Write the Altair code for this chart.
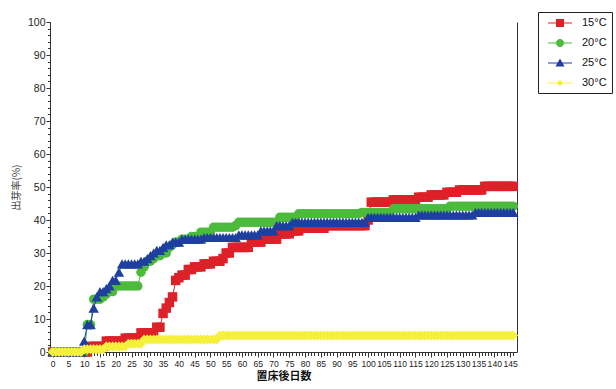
import altair as alt
import pandas as pd

# Days after placement on the germination bed (day 0 .. 146)
days = list(range(147))

temps = ["15°C", "20°C", "25°C", "30°C"]
colors = ["#dd2128", "#4cbb3c", "#1f3f9f", "#f5f03a"]

# Cumulative rate (%) per day, one list per temperature
rate_15 = [
    0, 0, 0, 0, 0, 0, 0, 0, 0, 0,
    0, 0, 1.7, 1.7, 1.7, 1.7, 1.7, 3.3, 3.3, 3.3,
    3.3, 3.3, 3.3, 4.2, 4.2, 4.2, 4.2, 4.2, 5.8, 5.8,
    5.8, 5.8, 5.8, 7.5, 7.5, 11.7, 13.3, 15.0, 16.7, 21.7,
    22.5, 23.3, 23.3, 25.0, 25.0, 25.8, 25.8, 25.8, 26.7, 26.7,
    26.7, 27.5, 27.5, 27.5, 28.3, 30.0, 30.0, 31.7, 31.7, 31.7,
    31.7, 31.7, 31.7, 33.3, 33.3, 33.3, 33.3, 34.2, 34.2, 34.2,
    34.2, 34.2, 35.8, 35.8, 35.8, 35.8, 36.7, 36.7, 36.7, 37.5,
    37.5, 37.5, 37.5, 37.5, 37.5, 37.5, 37.5, 38.3, 38.3, 38.3,
    38.3, 38.3, 38.3, 38.3, 38.3, 38.3, 38.3, 38.3, 38.3, 38.3,
    40.0, 45.4, 45.4, 45.4, 45.4, 45.4, 45.4, 45.4, 46.1, 46.1,
    46.1, 46.1, 46.1, 46.1, 46.1, 46.1, 46.9, 46.9, 46.9, 46.9,
    47.6, 47.6, 47.6, 47.6, 47.6, 48.4, 48.4, 48.4, 48.4, 49.1,
    49.1, 49.1, 49.1, 49.1, 49.1, 49.1, 49.1, 50.2, 50.2, 50.2,
    50.2, 50.2, 50.2, 50.2, 50.2, 50.2, 50.2,
]

rate_20 = [
    0, 0, 0, 0, 0, 0, 0, 0, 0, 0,
    0, 8.3, 8.3, 16.0, 16.0, 16.0, 16.7, 17.5, 18.3, 18.3,
    20.0, 20.0, 20.0, 20.0, 20.0, 20.0, 20.0, 20.0, 24.2, 25.8,
    27.5, 27.5, 28.3, 29.2, 29.2, 30.0, 30.0, 31.7, 32.5, 33.3,
    33.3, 34.2, 34.2, 34.2, 35.0, 35.0, 35.0, 36.3, 36.3, 36.3,
    36.3, 37.8, 37.8, 37.8, 37.8, 37.8, 37.8, 37.8, 38.3, 39.3,
    39.3, 39.3, 39.3, 39.3, 39.3, 39.3, 39.3, 39.3, 39.3, 39.3,
    39.3, 39.3, 40.8, 40.8, 40.8, 40.8, 40.8, 40.8, 41.9, 41.9,
    41.9, 41.9, 41.9, 41.9, 41.9, 41.9, 41.9, 41.9, 41.9, 41.9,
    41.9, 41.9, 41.9, 41.9, 41.9, 41.9, 41.9, 41.9, 42.3, 42.3,
    42.3, 42.3, 42.3, 42.3, 42.3, 42.3, 42.3, 42.3, 43.4, 43.4,
    43.4, 43.4, 43.4, 43.4, 43.4, 43.4, 43.4, 43.4, 43.4, 43.4,
    43.4, 43.4, 43.4, 43.4, 43.4, 43.4, 44.2, 44.2, 44.2, 44.2,
    44.2, 44.2, 44.2, 44.2, 44.2, 44.2, 44.2, 44.2, 44.2, 44.2,
    44.2, 44.2, 44.2, 44.2, 44.2, 44.2, 44.2,
]

rate_25 = [
    0, 0, 0, 0, 0, 0, 0, 0, 0, 0,
    3.3, 8.3, 8.3, 13.3, 16.7, 18.3, 18.3, 19.2, 20.0, 21.7,
    21.7, 24.2, 26.7, 26.7, 26.7, 26.7, 26.7, 26.7, 27.5, 27.5,
    28.3, 29.2, 30.0, 30.8, 30.8, 31.7, 32.5, 32.5, 33.3, 33.3,
    33.3, 34.2, 34.2, 34.2, 34.2, 34.2, 34.2, 34.2, 34.7, 34.7,
    34.7, 34.7, 34.7, 34.7, 34.7, 34.7, 34.7, 34.7, 34.7, 35.5,
    35.5, 35.5, 35.5, 35.5, 35.5, 35.5, 36.7, 36.7, 36.7, 36.7,
    36.7, 38.3, 38.3, 38.3, 38.3, 38.3, 39.3, 39.3, 39.3, 39.3,
    39.3, 39.3, 39.3, 39.3, 39.3, 39.3, 39.3, 39.3, 39.3, 39.3,
    39.3, 39.3, 39.3, 39.3, 39.3, 39.3, 39.3, 39.3, 39.3, 39.3,
    40.8, 40.8, 40.8, 40.8, 40.8, 40.8, 40.8, 40.8, 40.8, 40.8,
    40.8, 40.8, 40.8, 40.8, 40.8, 40.8, 41.5, 41.5, 41.5, 41.5,
    41.5, 41.5, 41.5, 41.5, 41.5, 41.5, 41.5, 41.5, 41.5, 41.5,
    41.5, 41.5, 41.5, 41.5, 42.3, 42.3, 42.3, 42.3, 42.3, 42.3,
    42.3, 42.3, 42.3, 42.3, 42.3, 42.3, 42.3,
]

rate_30 = [
    0, 0, 0, 0, 0, 0, 0, 0, 0, 0,
    0.8, 0.8, 0.8, 0.8, 0.8, 0.8, 0.8, 1.7, 1.7, 1.7,
    1.7, 1.7, 1.7, 1.7, 2.5, 2.5, 2.5, 2.5, 2.5, 3.8,
    3.8, 3.8, 3.8, 3.8, 3.8, 3.8, 3.8, 3.8, 3.8, 3.8,
    3.8, 3.8, 3.8, 3.8, 3.8, 3.8, 3.8, 3.8, 3.8, 3.8,
    3.8, 3.8, 3.8, 5.0, 5.0, 5.0, 5.0, 5.0, 5.0, 5.0,
    5.0, 5.0, 5.0, 5.0, 5.0, 5.0, 5.0, 5.0, 5.0, 5.0,
    5.0, 5.0, 5.0, 5.0, 5.0, 5.0, 5.0, 5.0, 5.0, 5.0,
    5.0, 5.0, 5.0, 5.0, 5.0, 5.0, 5.0, 5.0, 5.0, 5.0,
    5.0, 5.0, 5.0, 5.0, 5.0, 5.0, 5.0, 5.0, 5.0, 5.0,
    5.0, 5.0, 5.0, 5.0, 5.0, 5.0, 5.0, 5.0, 5.0, 5.0,
    5.0, 5.0, 5.0, 5.0, 5.0, 5.0, 5.0, 5.0, 5.0, 5.0,
    5.0, 5.0, 5.0, 5.0, 5.0, 5.0, 5.0, 5.0, 5.0, 5.0,
    5.0, 5.0, 5.0, 5.0, 5.0, 5.0, 5.0, 5.0, 5.0, 5.0,
    5.0, 5.0, 5.0, 5.0, 5.0, 5.0, 5.0,
]

x_ticks = list(range(0, 146, 5))
x_minor = list(range(0, 147))
y_ticks = list(range(0, 101, 10))
y_minor = list(range(0, 101, 2))

NUM_FONT = "Liberation Sans, Arial, sans-serif"
CJK_FONT = "Noto Sans CJK JP"
AXIS_COLOR = "#333333"

x_scale = alt.Scale(domain=[-0.85, 147.2], nice=False, zero=False)
y_scale = alt.Scale(domain=[0, 100], nice=False)

x_major_axis = alt.Axis(
    orient="bottom", values=x_ticks, title="置床後日数", titleFont=CJK_FONT,
    titleFontSize=11, titleFontWeight="bold", titleColor="#111111",
    titlePadding=3, labelFont=NUM_FONT, labelFontSize=8.6,
    labelColor="#222222", labelPadding=2, labelFlush=False,
    labelOverlap=False, tickSize=5, tickColor=AXIS_COLOR,
    domainColor=AXIS_COLOR, grid=False,
)
x_minor_axis = alt.Axis(
    orient="bottom", values=x_minor, labels=False, domain=False,
    tickSize=3.5, tickColor=AXIS_COLOR, grid=False, title=None,
)
y_major_axis = alt.Axis(
    orient="left", values=y_ticks, title="出芽率(%)", titleFont=CJK_FONT,
    titleFontSize=10, titleFontWeight="normal", titleColor="#444444",
    titlePadding=6, labelFont=NUM_FONT, labelFontSize=10.5,
    labelColor="#222222", labelPadding=1, tickSize=4,
    tickColor=AXIS_COLOR, domainColor=AXIS_COLOR, grid=False,
)
y_minor_axis = alt.Axis(
    orient="left", values=y_minor, labels=False, domain=False,
    tickSize=2.5, tickColor=AXIS_COLOR, grid=False, title=None,
)
y_right_axis = alt.Axis(
    orient="right", labels=False, ticks=False, domain=True,
    domainColor=AXIS_COLOR, grid=False, title=None,
)


def series_layers(values, color, shape, size, line_axes, point_axes):
    df = pd.DataFrame({"day": days, "rate": values})
    lx, ly = line_axes
    px, py = point_axes
    line = alt.Chart(df).mark_line(color=color, strokeWidth=1).encode(
        x=alt.X("day:Q", scale=x_scale, axis=lx),
        y=alt.Y("rate:Q", scale=y_scale, axis=ly),
    )
    points = alt.Chart(df).mark_point(
        filled=True, shape=shape, size=size, color=color, opacity=1, strokeWidth=0
    ).encode(
        x=alt.X("day:Q", scale=x_scale, axis=px),
        y=alt.Y("rate:Q", scale=y_scale, axis=py),
    )
    return [line, points]


layers = []
layers += series_layers(rate_15, colors[0], "square", 90,
                        (x_major_axis, y_major_axis), (x_minor_axis, y_minor_axis))
layers += series_layers(rate_20, colors[1], "circle", 90,
                        (None, y_right_axis), (None, None))
layers += series_layers(rate_25, colors[2], "triangle-up", 110,
                        (None, None), (None, None))
layers += series_layers(rate_30, colors[3], "diamond", 100,
                        (None, None), (None, None))

# Legend symbols: a short line with the series marker on it
BAR = "M-2,-0.08H2V0.08H-2Z "
legend_shapes = [
    BAR + "M-0.67,-0.67H0.67V0.67H-0.67Z",
    BAR + "M-0.67,0A0.67,0.67 0 1,1 0.67,0A0.67,0.67 0 1,1 -0.67,0Z",
    BAR + "M0,-0.75L0.75,0.6H-0.75Z",
    BAR + "M0,-0.55L0.55,0L0,0.55L-0.55,0Z",
]

legend_df = pd.DataFrame({"temp": temps})
legend_layer = alt.Chart(legend_df).transform_filter("false").mark_point(
    filled=True, opacity=1
).encode(
    color=alt.Color(
        "temp:N",
        scale=alt.Scale(domain=temps, range=colors),
        legend=alt.Legend(
            title=None, orient="none", legendX=488, legendY=-10,
            direction="vertical", strokeColor="#222222", fillColor="white",
            padding=5, symbolSize=144, symbolOffset=11, labelOffset=16,
            rowPadding=9, labelFont=NUM_FONT,
            labelFontSize=11, labelColor="#111111", symbolStrokeWidth=0,
            symbolOpacity=1,
        ),
    ),
    shape=alt.Shape("temp:N", scale=alt.Scale(domain=temps, range=legend_shapes)),
)
layers.append(legend_layer)

chart = (
    alt.layer(*layers)
    .resolve_axis(x="independent", y="independent")
    .properties(
        width=467,
        height=330,
        padding={"left": 50, "top": 22, "right": 99, "bottom": 37},
        autosize=alt.AutoSizeParams(type="none"),
        background="white",
    )
    .configure_view(stroke=None)
)

chart.save("out.html", embed_options={"renderer": "svg", "actions": False})
